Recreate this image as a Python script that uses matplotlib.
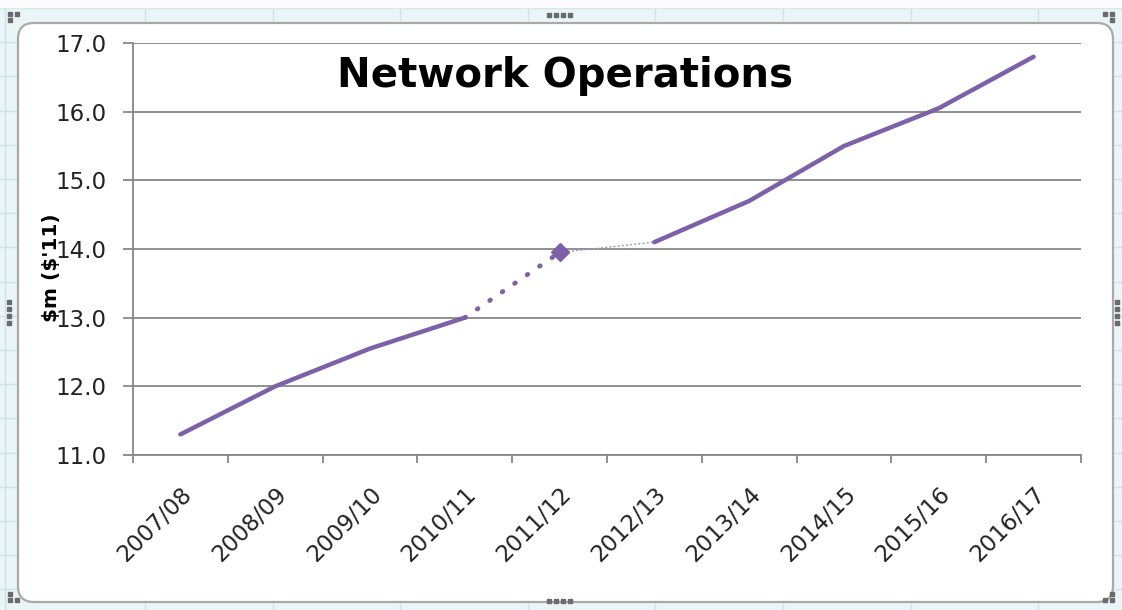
import matplotlib
matplotlib.use("Agg")
import matplotlib.pyplot as plt
import numpy as np
from matplotlib.patches import FancyBboxPatch

years = ["2007/08", "2008/09", "2009/10", "2010/11", "2011/12",
         "2012/13", "2013/14", "2014/15", "2015/16", "2016/17"]
cost = [11.3, 12.0, 12.55, 13.0, 13.95, 14.1, 14.7, 15.5, 16.05, 16.8]

y_ticks = [11.0, 12.0, 13.0, 14.0, 15.0, 16.0, 17.0]

# index ranges for each piece of the series
actual_idx = [0, 1, 2, 3]
estimate_idx = [3, 4]
bridge_idx = [4, 5]
forecast_idx = [5, 6, 7, 8, 9]

purple = "#7d60a8"
W, H = 1122, 610

plt.rcParams['font.family'] = ['DejaVu Sans']

fig = plt.figure(figsize=(W / 100, H / 100), dpi=100)
fig.patch.set_facecolor("#eaf5f8")

# spreadsheet cells behind the chart object
bg = fig.add_axes([0, 0, 1, 1], zorder=-10)
bg.set_xlim(0, W)
bg.set_ylim(H, 0)
bg.axis("off")
for cx in list(np.arange(145, W, 127.6)) + [5]:
    bg.axvline(cx, color="#cfe2e8", lw=1, zorder=0)
for ry in np.arange(8, H, 34.2):
    bg.axhline(ry, color="#cfe2e8", lw=1, zorder=0)
bg.axhspan(0, 7, color="#fbfdfd", zorder=0.5)
bg.add_patch(FancyBboxPatch((18, 23), 1095, 579,
                            boxstyle="round,pad=0,rounding_size=16",
                            fc="white", ec="#a9a9a9", lw=1.6, zorder=2))
# selection handles
handles = [(10, 14), (17, 14), (10, 20), (1105, 14), (1112, 14), (1112, 20),
           (10, 600), (17, 600), (10, 594), (1105, 600), (1112, 600), (1112, 594)]
handles += [(hx, 15) for hx in [549, 556, 563, 570]]
handles += [(hx, 601) for hx in [549, 556, 563, 570]]
handles += [(9, hy) for hy in [302, 309, 316, 323]]
handles += [(1117, hy) for hy in [302, 309, 316, 323]]
for hx, hy in handles:
    bg.plot(hx, hy, "s", ms=2.5, color="#6b6b6b", zorder=3)

ax = fig.add_axes([133 / W, 1 - 455 / H, (1081 - 133) / W, (455 - 43) / H])
ax.set_facecolor("none")
x = np.arange(len(years))
vals = np.array(cost)

ax.plot(x[actual_idx], vals[actual_idx], color=purple, lw=3.2,
        solid_capstyle="round", solid_joinstyle="round", zorder=3)
ax.plot(x[estimate_idx], vals[estimate_idx], color=purple, lw=3.4,
        linestyle=(0, (0.2, 3.0)), dash_capstyle="round", zorder=3)
ax.plot(x[bridge_idx], vals[bridge_idx], color="#a994c6", lw=1.0,
        linestyle=(0, (1.5, 1.5)), zorder=3)
ax.plot(x[4], vals[4], marker="D", ms=9, color=purple, zorder=4)
ax.plot(x[forecast_idx], vals[forecast_idx], color=purple, lw=3.2,
        solid_capstyle="round", solid_joinstyle="round", zorder=3)

ax.set_xlim(-0.5, len(years) - 0.5)
ax.set_ylim(11, 17)
ax.set_yticks(y_ticks)
ax.set_yticklabels([f"{v:.1f}" for v in y_ticks], fontsize=16.5, color="#222222")
ax.grid(axis="y", color="#878787", lw=1.3)
ax.set_axisbelow(True)

ax.set_xticks(x)
ax.set_xticklabels(years, rotation=45, ha="right", rotation_mode="anchor",
                   fontsize=16.5, color="#222222")
ax.set_xticks(np.arange(len(years) + 1) - 0.5, minor=True)
ax.tick_params(axis="x", which="major", length=0, pad=20)
ax.tick_params(axis="x", which="minor", length=6, width=1.3, color="#878787")
ax.tick_params(axis="y", length=7, width=1.3, color="#878787", pad=12)

for side in ["top", "right"]:
    ax.spines[side].set_visible(False)
for side in ["left", "bottom"]:
    ax.spines[side].set_color("#878787")
    ax.spines[side].set_linewidth(1.3)

fig.text(565 / W, 1 - 87 / H, "Network Operations", ha="center", va="baseline",
         fontsize=29, fontweight="bold", color="black")
fig.text(51 / W, 1 - 268 / H, r"\$m (\$'11)", rotation=90, ha="center", va="center",
         fontsize=14.5, fontweight="bold", color="black")

fig.savefig("out.png", dpi=100)
